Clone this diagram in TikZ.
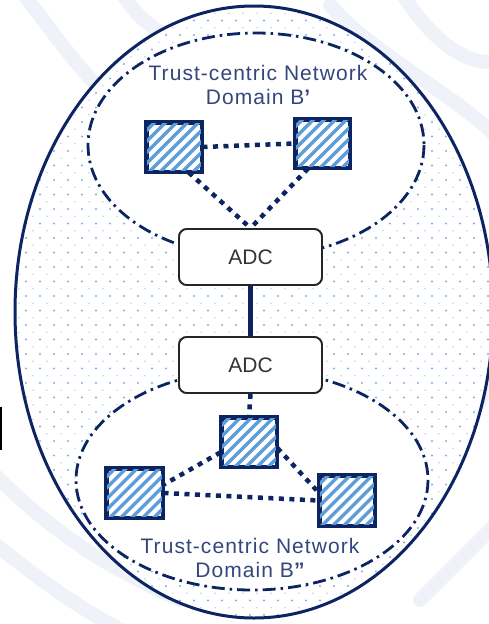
\documentclass[tikz,border=0pt]{standalone}
\usepackage{fontspec}
\setmainfont{Liberation Sans}
\newfontfamily\domainfont[LetterSpace=5]{Liberation Sans}
\usetikzlibrary{calc}

\definecolor{navy}{HTML}{0C2461}
\definecolor{domaintext}{HTML}{34467E}
\definecolor{stripe}{HTML}{5E9DD8}
\definecolor{dotbright}{HTML}{7FB0E0}
\definecolor{dotpale}{HTML}{B9D4EE}
\definecolor{watermark}{HTML}{EFF2F8}
\definecolor{adctext}{HTML}{333333}

\tikzset{
  hatchbox/.style={draw=navy, line width=3pt, fill=white,
    minimum width=#1, minimum height=48pt, inner sep=0pt},
  adcbox/.style={draw=black!85, line width=1.8pt, fill=white, rounded corners=8pt,
    minimum width=143pt, minimum height=56pt, inner sep=0pt,
    font=\fontsize{21}{24}\selectfont, text=adctext},
  trustlink/.style={draw=navy, line width=4.5pt, dash pattern=on 5pt off 5.5pt},
  domainline/.style={draw=navy, line width=2.8pt,
    dash pattern=on 13pt off 5pt on 2.5pt off 5pt},
  domainlabel/.style={text=domaintext, align=center,
    font=\domainfont\fontsize{21}{24}\selectfont},
  washstroke/.style={draw=watermark, line width=14pt, line cap=round},
}

% diagonal stripes inside a square node
\newcommand{\stripefill}[1]{%
  \begin{scope}
    \clip ($(#1.south west)+(1.5pt,1.5pt)$) rectangle ($(#1.north east)+(-1.5pt,-1.5pt)$);
    \foreach \k in {-88,-77,...,88}{
      \draw[stripe, line width=3.2pt] ($(#1.center)+(\k-45,45)$) -- ++(90,-90);
    }
  \end{scope}
  \draw[navy, line width=3pt] (#1.south west) rectangle (#1.north east);
}

\begin{document}
\begin{tikzpicture}[x=1pt, y=-1pt]
  \useasboundingbox (0,0) rectangle (489,624);
  \fill[white] (0,0) rectangle (489,624);

  % faint background swirls
  \draw[washstroke] (20,-10) .. controls (60,40) and (90,90) .. (140,120);
  \draw[washstroke] (120,-10) .. controls (150,40) and (190,50) .. (220,30);
  \draw[washstroke] (400,-10) .. controls (430,40) and (470,70) .. (500,60);
  \draw[washstroke] (330,5) .. controls (380,60) and (450,90) .. (500,140);
  \draw[washstroke] (-10,470) .. controls (40,520) and (90,560) .. (180,600);
  \draw[washstroke] (-10,540) .. controls (40,580) and (80,610) .. (140,640);
  \draw[washstroke] (470,420) .. controls (480,400) and (490,380) .. (500,370);
  \draw[washstroke] (420,600) .. controls (450,570) and (480,540) .. (500,520);
  \fill[black] (0,407) rectangle (1.6,450);

  % outer domain with dotted texture
  \coordinate (bigc) at (254,312);
  \fill[white] (bigc) ellipse [x radius=239, y radius=306];
  \begin{scope}
    \clip (bigc) ellipse [x radius=239, y radius=306];
    \foreach \r in {0,...,85}{
      \pgfmathsetmacro{\yy}{6+7.25*\r}
      \pgfmathtruncatemacro{\odd}{mod(\r,2)}
      \ifnum\odd=0
        \foreach \c in {0,...,35}{
          \fill[dotbright] (12+14*\c,\yy) circle (1.1pt);
        }
      \else
        \foreach \c in {0,...,35}{
          \fill[dotpale] (19+14*\c,\yy) circle (0.9pt);
        }
      \fi
    }
  \end{scope}
  \draw[navy, line width=3pt] (bigc) ellipse [x radius=239, y radius=306];

  % trust-centric domains
  \coordinate (topc) at (256,145);
  \coordinate (botc) at (252,480);
  \fill[white] (topc) ellipse [x radius=168, y radius=112];
  \fill[white] (botc) ellipse [x radius=176, y radius=110];
  \draw[domainline] (topc) ellipse [x radius=168, y radius=112];
  \draw[domainline] (botc) ellipse [x radius=176, y radius=110];

  % nodes
  \node[hatchbox=54pt] (tl) at (174,147) {};
  \node[hatchbox=53pt, minimum height=47pt] (tr) at (322.5,143.5) {};
  \node[hatchbox=54pt] (bc) at (249,442) {};
  \node[hatchbox=55pt] (bl) at (134.5,493) {};
  \node[hatchbox=54pt, minimum height=49pt] (br) at (347,500.5) {};
  \node[adcbox] (adc1) at (250.5,257) {ADC};
  \node[adcbox] (adc2) at (250.5,365) {ADC};

  % links
  \draw[trustlink] (tl.east) -- (tr.west);
  \draw[trustlink] (tl.-60) -- (adc1.north);
  \draw[trustlink] (tr.-120) -- (adc1.north);
  \draw[trustlink] (adc2.south) -- (bc.north);
  \draw[trustlink] (bc.200) -- (bl.16);
  \draw[trustlink] (bc.-12) -- (br.164);
  \draw[trustlink] (bl.east) -- (br.west);
  \draw[navy, line width=4.5pt] (adc1.south) -- (adc2.north);

  % hatching on top of the links' ends
  \stripefill{tl}
  \stripefill{tr}
  \stripefill{bc}
  \stripefill{bl}
  \stripefill{br}

  % redraw ADC boxes so links end at their borders
  \node[adcbox] at (adc1) {ADC};
  \node[adcbox] at (adc2) {ADC};

  % domain labels (base anchor sits on the last line)
  \node[domainlabel, anchor=base] (lblA) at (258,104) {Trust-centric Network\\Domain B{\bfseries ’}};
  \node[domainlabel, anchor=base] (lblB) at (250,577) {Trust-centric Network\\Domain B{\bfseries ”}};
\end{tikzpicture}
\end{document}
